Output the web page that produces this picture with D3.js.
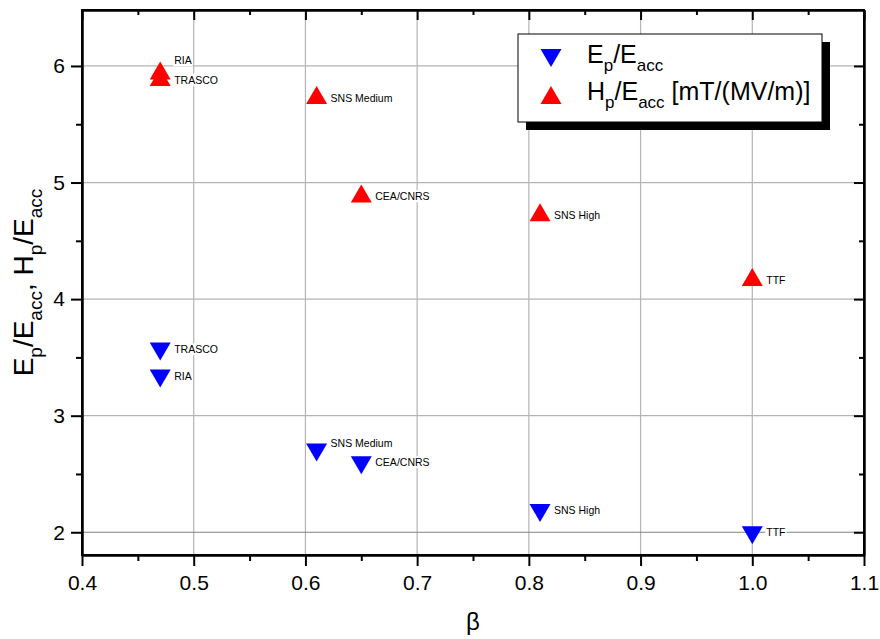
<!DOCTYPE html>
<html>
<head>
<meta charset="utf-8">
<script src="https://cdn.jsdelivr.net/npm/d3@7"></script>
<style>
  body { margin: 0; background: #fff; }
  svg { display: block; font-family: Arial, "Liberation Sans", sans-serif; }
</style>
</head>
<body>
<div id="chart"></div>
<script>
//
// Peak field ratios vs beta
//

var cavities = ["RIA", "TRASCO", "SNS Medium", "CEA/CNRS", "SNS High", "TTF"];
var beta = [0.47, 0.47, 0.61, 0.65, 0.81, 1.0];
var ep_eacc = [3.32, 3.55, 2.685, 2.575, 2.165, 1.975];
var hp_eacc = [5.96, 5.905, 5.75, 4.905, 4.745, 4.19];

// label nudges (px) so the names don't collide
var ep_label_dy = [-2, -2, -9, -3, -3, -3];
var hp_label_dy = [-10, 3, 3, 3, 3, 3];

var x_ticks = [0.4, 0.5, 0.6, 0.7, 0.8, 0.9, 1.0, 1.1];
var y_ticks = [2, 3, 4, 5, 6];

function ChartScatter() {
  var total_width = 880, total_height = 639;
  var margin = {top: 10, right: 16, bottom: 84, left: 82},
      width = total_width - margin.left - margin.right,
      height = total_height - margin.top - margin.bottom;

  function my(selection) {
    var svg = selection.append("svg")
        .attr("width", total_width)
        .attr("height", total_height);
    var g = svg.append("g")
        .attr("transform", "translate(" + margin.left + "," + margin.top + ")");

    var x = d3.scaleLinear().domain([0.4, 1.1]).range([0, width]);
    var y = d3.scaleLinear().domain([1.805, 6.48]).range([height, 0]);

    var x_minor = d3.range(0.45, 1.1, 0.1);
    var y_minor = d3.range(2.5, 6.5, 1);

    // grid
    g.append("g").selectAll("line")
      .data(x_ticks.slice(1, -1))
      .enter().append("line")
        .attr("x1", d => x(d)).attr("x2", d => x(d))
        .attr("y1", 0).attr("y2", height)
        .attr("stroke", "#b4b4b4").attr("stroke-width", 1.2);
    g.append("g").selectAll("line")
      .data(y_ticks)
      .enter().append("line")
        .attr("x1", 0).attr("x2", width)
        .attr("y1", d => y(d)).attr("y2", d => y(d))
        .attr("stroke", d => d == 2 ? "#808080" : "#b4b4b4").attr("stroke-width", 1.2);

    // axes
    function style_axis(sel) {
      sel.selectAll("path").attr("stroke", "#000").attr("stroke-width", 2);
      sel.selectAll("line").attr("stroke", "#000").attr("stroke-width", 2);
      sel.selectAll("text").attr("fill", "#000").attr("font-size", 21)
        .attr("font-family", "Arial, 'Liberation Sans', sans-serif");
    }

    g.append("g").attr("transform", "translate(0," + height + ")")
      .call(d3.axisBottom(x).tickValues(x_ticks).tickSize(11).tickSizeOuter(0).tickPadding(9).tickFormat(d3.format(".1f")))
      .call(style_axis);
    g.append("g").attr("transform", "translate(0," + height + ")")
      .call(d3.axisBottom(x).tickValues(x_minor).tickSize(6).tickSizeOuter(0).tickFormat(""))
      .call(style_axis);
    g.append("g")
      .call(d3.axisLeft(y).tickValues(y_ticks).tickSize(11).tickSizeOuter(0).tickPadding(6).tickFormat(d3.format("d")))
      .call(style_axis);
    g.append("g")
      .call(d3.axisLeft(y).tickValues(y_minor).tickSize(6).tickSizeOuter(0).tickFormat(""))
      .call(style_axis);
    g.append("g")
      .call(d3.axisTop(x).tickValues(x_ticks).tickSize(-10).tickSizeOuter(0).tickFormat(""))
      .call(style_axis);
    g.append("g")
      .call(d3.axisTop(x).tickValues(x_minor).tickSize(-5).tickSizeOuter(0).tickFormat(""))
      .call(style_axis);
    g.append("g").attr("transform", "translate(" + width + ",0)")
      .call(d3.axisRight(y).tickValues(y_ticks).tickSize(-10).tickSizeOuter(0).tickFormat(""))
      .call(style_axis);
    g.append("g").attr("transform", "translate(" + width + ",0)")
      .call(d3.axisRight(y).tickValues(y_minor).tickSize(-5).tickSizeOuter(0).tickFormat(""))
      .call(style_axis);

    // frame
    g.append("rect")
      .attr("width", width).attr("height", height)
      .attr("fill", "none").attr("stroke", "#000").attr("stroke-width", 2);

    // axis titles
    svg.append("text")
      .attr("x", margin.left + width / 2).attr("y", 630)
      .attr("text-anchor", "middle").attr("font-size", 24)
      .text("β");

    var yt = svg.append("text")
      .attr("transform", "translate(33," + (margin.top + height / 2) + ") rotate(-90)")
      .attr("text-anchor", "middle").attr("font-size", 28);
    yt.append("tspan").text("E");
    yt.append("tspan").attr("font-size", 19).attr("dy", 9).text("p");
    yt.append("tspan").attr("dy", -9).text("/E");
    yt.append("tspan").attr("font-size", 19).attr("dy", 9).text("acc");
    yt.append("tspan").attr("dy", -9).text(", H");
    yt.append("tspan").attr("font-size", 19).attr("dy", 9).text("p");
    yt.append("tspan").attr("dy", -9).text("/E");
    yt.append("tspan").attr("font-size", 19).attr("dy", 9).text("acc");

    // markers
    var tri_w = 21, tri_h = 18;
    function tri(up) {
      return up
        ? "M0," + (-tri_h / 2) + "L" + (tri_w / 2) + "," + (tri_h / 2) + "L" + (-tri_w / 2) + "," + (tri_h / 2) + "Z"
        : "M0," + (tri_h / 2) + "L" + (tri_w / 2) + "," + (-tri_h / 2) + "L" + (-tri_w / 2) + "," + (-tri_h / 2) + "Z";
    }

    function add_series(values, up, colour, dys) {
      var data = cavities.map((c, i) => ({name: c, x: beta[i], y: values[i], dy: dys[i]}));
      var lab = g.append("g").selectAll("g")
        .data(data).enter().append("g")
          .attr("transform", d => "translate(" + (x(d.x) + 14) + "," + (y(d.y) + d.dy) + ")");
      lab.append("text")
        .attr("font-size", 10.5).attr("dy", "0.35em")
        .text(d => d.name);
      lab.each(function() {
        var t = d3.select(this).select("text");
        var bb = t.node().getBBox();
        d3.select(this).insert("rect", "text")
          .attr("x", bb.x - 1).attr("y", bb.y).attr("width", bb.width + 2).attr("height", bb.height)
          .attr("fill", "#fff");
      });
      g.append("g").selectAll("path")
        .data(data).enter().append("path")
          .attr("transform", d => "translate(" + x(d.x) + "," + y(d.y) + ")")
          .attr("d", tri(up))
          .attr("fill", colour);
    }
    add_series(ep_eacc, false, "#0000ff", ep_label_dy);
    add_series(hp_eacc, true, "#ff0000", hp_label_dy);

    // legend
    var lg = svg.append("g").attr("transform", "translate(518,34)");
    lg.append("rect").attr("x", 8).attr("y", 8).attr("width", 304).attr("height", 88).attr("fill", "#000");
    lg.append("rect").attr("width", 304).attr("height", 88).attr("fill", "#fff").attr("stroke", "#000").attr("stroke-width", 1);
    lg.append("path").attr("transform", "translate(33,24)").attr("d", tri(false)).attr("fill", "#0000ff");
    lg.append("path").attr("transform", "translate(33,61)").attr("d", tri(true)).attr("fill", "#ff0000");

    var l1 = lg.append("text").attr("x", 69).attr("y", 29).attr("font-size", 25);
    l1.append("tspan").text("E");
    l1.append("tspan").attr("font-size", 17).attr("dy", 8).text("p");
    l1.append("tspan").attr("dy", -8).text("/E");
    l1.append("tspan").attr("font-size", 17).attr("dy", 8).text("acc");

    var l2 = lg.append("text").attr("x", 69).attr("y", 66).attr("font-size", 25);
    l2.append("tspan").text("H");
    l2.append("tspan").attr("font-size", 17).attr("dy", 8).text("p");
    l2.append("tspan").attr("dy", -8).text("/E");
    l2.append("tspan").attr("font-size", 17).attr("dy", 8).text("acc");
    l2.append("tspan").attr("dy", -8).text(" [mT/(MV/m)]");
  }

  return my;
}

var chart = ChartScatter();
chart(d3.select("#chart"));
</script>
</body>
</html>
